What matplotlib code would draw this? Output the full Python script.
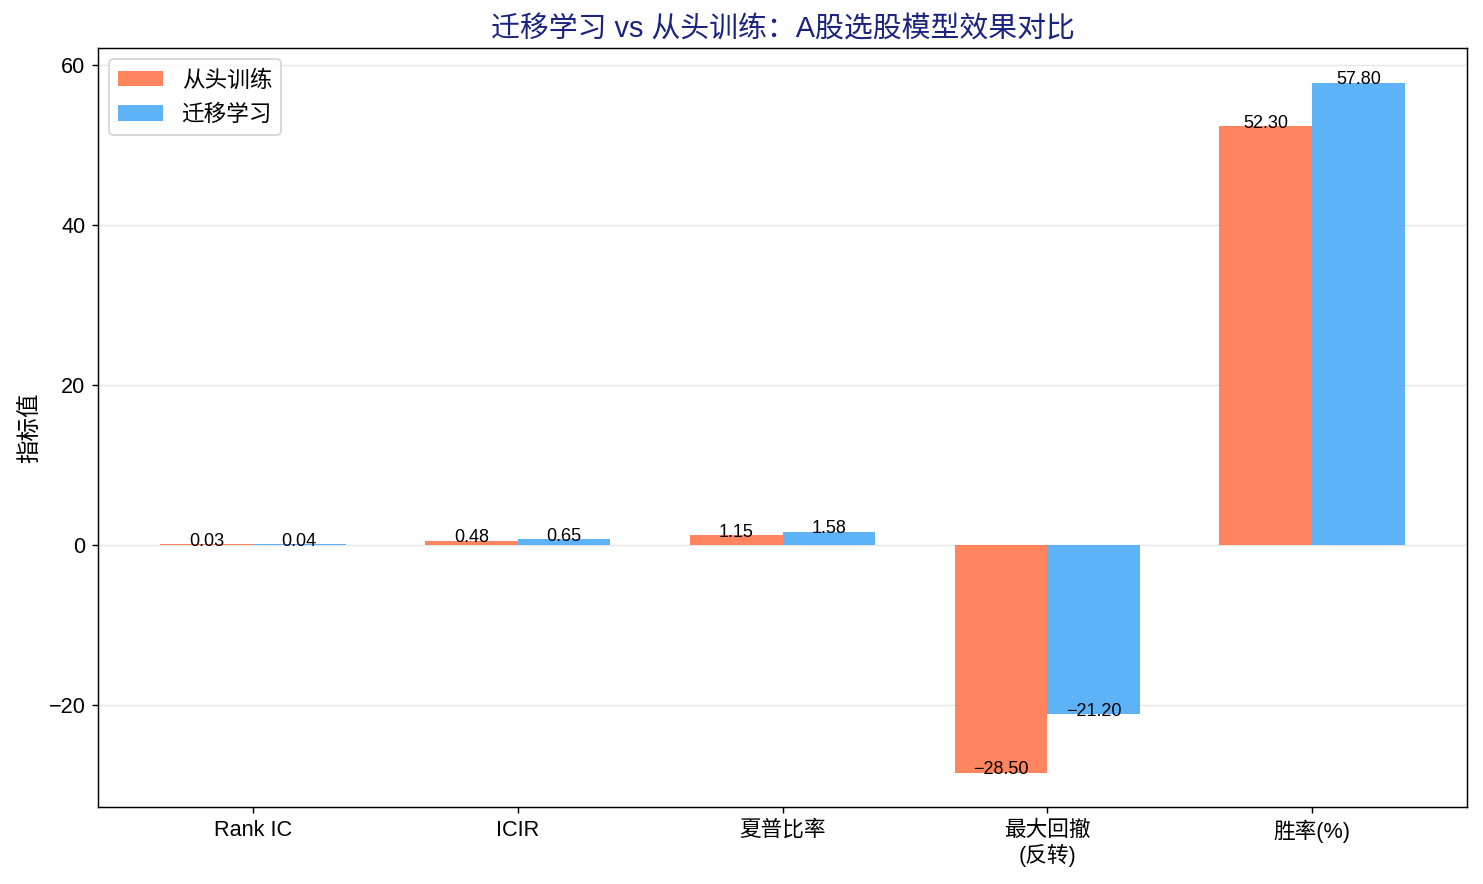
import numpy as np
import matplotlib
matplotlib.use("Agg")
import matplotlib.pyplot as plt

plt.rcParams['font.family'] = ['Liberation Sans', 'Noto Sans CJK SC', 'DejaVu Sans']
plt.rcParams['axes.unicode_minus'] = True

# 数据
metrics = ["Rank IC", "ICIR", "夏普比率", "最大回撤\n(反转)", "胜率(%)"]
scratch = [0.03, 0.48, 1.15, -28.50, 52.30]
transfer = [0.04, 0.65, 1.58, -21.20, 57.80]

x = np.arange(len(metrics))
width = 0.35

fig = plt.figure(figsize=(1483 / 130, 884 / 130), dpi=130)
ax = fig.add_axes([0.0661, 0.0871, 0.9231, 0.8586])

bars1 = ax.bar(x - width / 2, scratch, width, label="从头训练", color="#FF7043", alpha=0.85)
bars2 = ax.bar(x + width / 2, transfer, width, label="迁移学习", color="#42A5F5", alpha=0.85)

# 数值标签
for bars in (bars1, bars2):
    for b in bars:
        h = b.get_height()
        ax.annotate(f"{h:.2f}".replace("-", "\u2212"),
                    (b.get_x() + b.get_width() / 2, h),
                    xytext=(0, -3), textcoords="offset points",
                    ha="center", va="bottom", fontsize=10)

ax.set_xticks(x)
ax.set_xticklabels(metrics, fontsize=12)
ax.tick_params(axis="y", labelsize=12)
ax.set_ylabel("指标值", fontsize=13)
ax.set_title("迁移学习 vs 从头训练：A股选股模型效果对比", fontsize=16, color="#1A237E")
ax.legend(loc="upper left", fontsize=12.5)
ax.grid(axis="y", alpha=0.3)
ax.set_axisbelow(True)

fig.savefig("out.png", dpi=130)
